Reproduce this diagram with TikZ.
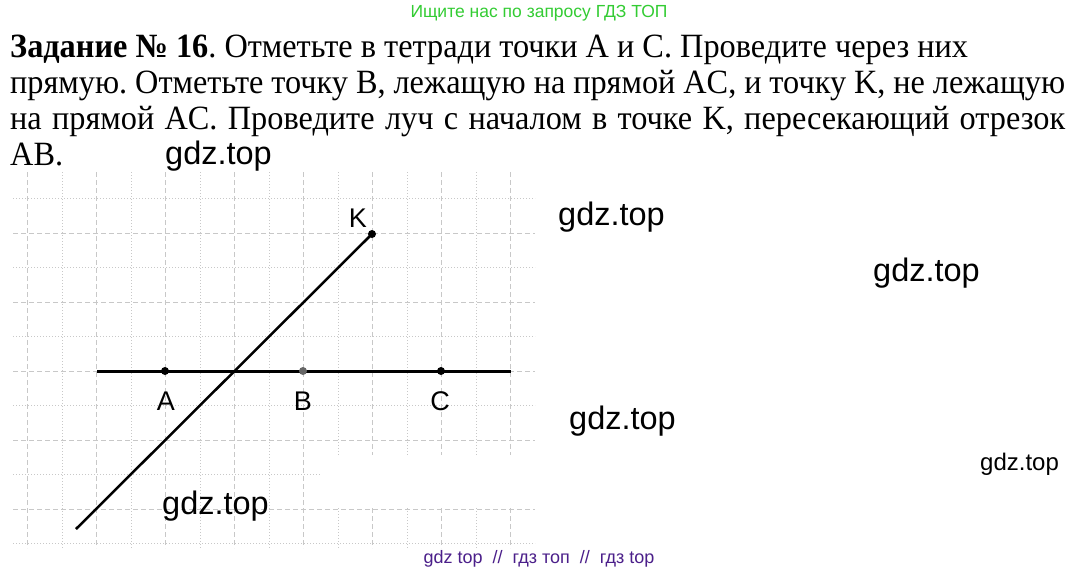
\documentclass[tikz,border=0pt]{standalone}
\usepackage{fontspec}
\setmainfont[FakeStretch=0.95]{Liberation Serif}
\newfontfamily\wmfont{Liberation Sans}
\definecolor{adgreen}{RGB}{51,204,51}
\definecolor{adpurple}{RGB}{75,31,138}
\definecolor{gridgray}{RGB}{200,200,200}
\tikzset{
  gridthick/.style={gridgray, line width=1pt, dash pattern=on 5pt off 3pt},
  gridthin/.style={gridgray, line width=1pt, dash pattern=on 1pt off 2pt},
  dot/.style={circle, fill=black, inner sep=0pt, minimum size=8pt},
  lbl/.style={font=\wmfont\fontsize{27}{27}\selectfont},
  wm/.style={anchor=base west, inner sep=0pt, font=\wmfont\fontsize{32.5}{32.5}\selectfont},
  textline/.style={anchor=base west, inner sep=0pt, font=\fontsize{34}{36}\selectfont},
}

\begin{document}
\begin{tikzpicture}[x=1pt,y=-1pt]
\useasboundingbox[fill=white] (0,0) rectangle (1079,574);
\frenchspacing

\node[font=\wmfont\fontsize{17.5}{17.5}\selectfont, text=adgreen, anchor=base, inner sep=0pt] (hdr) at (539,17) {Ищите нас по запросу ГДЗ ТОП};

\node[textline] (line1) at (10,57) {\textbf{Задание № 16}. Отметьте в тетради точки A и C. Проведите через них};
\node[textline] (line2) at (10,93) {\makebox[1055pt][s]{прямую. Отметьте точку B, лежащую на прямой AC, и точку K, не лежащую}};
\node[textline] (line3) at (10,129) {\makebox[1055pt][s]{на прямой AC. Проведите луч с началом в точке K, пересекающий отрезок}};
\node[textline] (line4) at (10,165) {AB.};

% grid
\foreach \x in {27.5,96.5,...,510.5}{
\draw [gridthick] (\x,172) -- (\x,548);
}
\foreach \x in {62,131,...,476}{
\draw [gridthin] (\x,172) -- (\x,548);
}
\foreach \y in {233,302,...,509}{
\draw [gridthick] (13,\y) -- (535,\y);
}
\foreach \y in {198.5,267.5,...,543.5}{
\draw [gridthin] (13,\y) -- (535,\y);
}
\fill [white] (322,455) rectangle (540,508);

\coordinate (L) at (97,371);
\coordinate (R) at (511,371);
\coordinate (E) at (76,529);
\coordinate (K) at (372,234);
\draw [line width=3pt] (L) -- (R);
\draw [line width=2.5pt] (K) -- (E);
\node[dot] (A) at (165,371) {};
\node[dot, fill=black!60] (B) at (303,371) {};
\node[dot] (C) at (441,371) {};
\node[dot] (Kdot) at (K) {};
\node[lbl] (labA) at (166,401.5) {A};
\node[lbl] (labB) at (303,401.5) {B};
\node[lbl] (labC) at (440,401.5) {C};
\node[lbl] (labK) at (358,218) {K};

\node[wm] (wm1) at (165,164.5) {gdz.top};
\node[wm] (wm2) at (558,225.5) {gdz.top};
\node[wm] (wm3) at (873,281.5) {gdz.top};
\node[wm] (wm4) at (569,429.5) {gdz.top};
\node[wm, font=\wmfont\fontsize{24}{24}\selectfont] (wm5) at (980,470.5) {gdz.top};
\node[wm] (wm6) at (162,514.5) {gdz.top};

\node[font=\wmfont\fontsize{18}{18}\selectfont, text=adpurple, anchor=base, inner sep=0pt] (ftr) at (539,563) {gdz top \ // \ гдз топ \ // \ гдз top};
\end{tikzpicture}
\end{document}
